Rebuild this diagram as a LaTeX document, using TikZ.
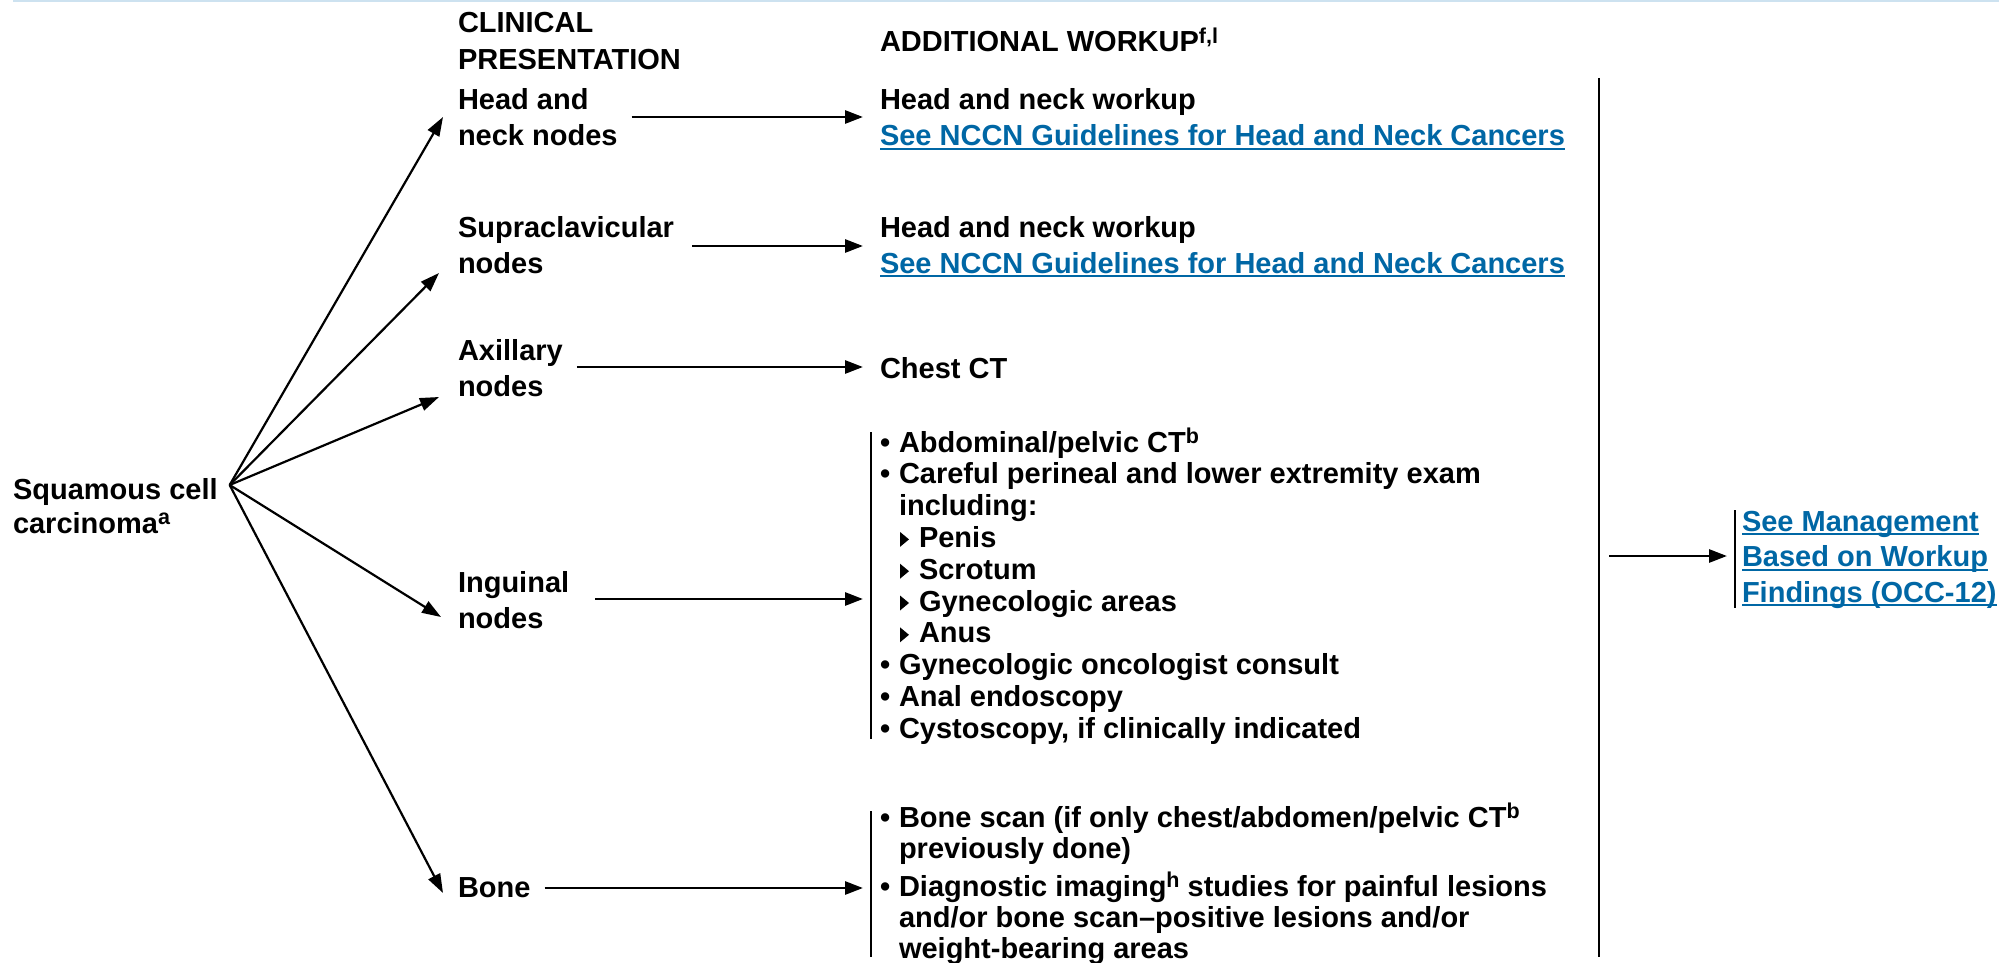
\documentclass[tikz,border=0pt]{standalone}
\usepackage{fontspec}
\setmainfont{Liberation Sans}
\usetikzlibrary{arrows.meta}
\definecolor{nccnblue}{RGB}{0,103,165}
\definecolor{topline}{RGB}{205,226,240}
\newcommand\bul{\makebox[19pt][l]{•}}
\newcommand\ind{\hspace*{19pt}}
\newcommand\subtri{\hspace*{20pt}\makebox[19pt][l]{\tikz[baseline=0pt]\fill (0pt,0.5pt) -- (0pt,15.5pt) -- (9pt,8pt) -- cycle;}}
\newcommand\lnk[1]{\setbox0\hbox{#1}\rlap{\rule[-4pt]{\wd0}{1.8pt}}\box0}
\newcommand\rows[1]{\begin{tabular}[t]{@{}l@{}}#1\end{tabular}}
\newcommand\sups[1]{\raisebox{8.5pt}{\fontsize{21.5}{21.5}\selectfont #1}}
\begin{document}
\begin{tikzpicture}[x=1pt,y=-1pt,
  txt/.style={inner sep=0pt, outer sep=0pt, anchor=base west, font=\bfseries\fontsize{29}{36}\selectfont},
  lst/.style={txt, font=\bfseries\fontsize{29}{31.8}\selectfont},
  arr/.style={line width=2.8pt, -{Triangle[length=18pt,width=13pt]}},
  darr/.style={line width=2.2pt, -{Triangle[length=19pt,width=13pt]}},
  bar/.style={line width=2pt}]
\useasboundingbox (0,0) rectangle (1999,963);
\fill[white] (0,0) rectangle (1999,963);
\draw[topline, line width=2.5pt] (13,1) -- (1999,1);

% left column
\node[txt, font=\bfseries\fontsize{29}{34}\selectfont] (scc) at (13,499) {\rows{Squamous cell\\carcinoma\sups{a}}};
\node[txt, font=\bfseries\fontsize{29}{37}\selectfont] (clin) at (458,33) {\rows{CLINICAL\\PRESENTATION}};
\node[txt] (addw) at (880,52) {ADDITIONAL WORKUP\sups{f,l}};

\node[txt] (hn) at (458,110) {\rows{Head and\\neck nodes}};
\node[txt] (sc) at (458,237) {\rows{Supraclavicular\\nodes}};
\node[txt] (ax) at (458,360) {\rows{Axillary\\nodes}};
\node[txt] (ing) at (458,592) {\rows{Inguinal\\nodes}};
\node[txt] (bone) at (458,897) {Bone};

% workup column
\node[txt] (hnw1) at (880,110) {\rows{Head and neck workup\\{\color{nccnblue}\lnk{See NCCN Guidelines for Head and Neck Cancers}}}};
\node[txt] (hnw2) at (880,237) {\rows{Head and neck workup\\{\color{nccnblue}\lnk{See NCCN Guidelines for Head and Neck Cancers}}}};
\node[txt] (chest) at (880,378) {Chest CT};
\node[lst] (ingl) at (880,452) {\rows{%
\bul Abdominal/pelvic CT\sups{b}\\
\bul Careful perineal and lower extremity exam\\
\ind including:\\
\subtri Penis\\
\subtri Scrotum\\
\subtri Gynecologic areas\\
\subtri Anus\\
\bul Gynecologic oncologist consult\\
\bul Anal endoscopy\\
\bul Cystoscopy, if clinically indicated}};
\node[lst, font=\bfseries\fontsize{29}{31}\selectfont] (bonel) at (880,827) {\rows{%
\bul Bone scan (if only chest/abdomen/pelvic CT\sups{b}\\
\ind previously done)\\[5pt]
\bul Diagnostic imaging\sups{h} studies for painful lesions\\
\ind and/or bone scan–positive lesions and/or\\
\ind weight-bearing areas}};

% management
\node[txt, font=\bfseries\fontsize{29}{35.5}\selectfont, text=nccnblue] (mgmt) at (1742,531) {\rows{\lnk{See Management}\\\lnk{Based on Workup}\\\lnk{Findings (OCC-12)}}};

% diagonal arrows
\coordinate (o) at ([shift={(12pt,14pt)}]scc.base east);
\draw[darr] (o) -- ([shift={(-15pt,-7pt)}]hn.base west);
\draw[darr] (o) -- ([shift={(-19pt,-36pt)}]sc.base west);
\draw[darr] (o) -- ([shift={(-19pt,-37pt)}]ax.base west);
\draw[darr] (o) -- ([shift={(-17pt,-25pt)}]ing.base west);
\draw[darr] (o) -- ([shift={(-15pt,4pt)}]bone.base west);

% horizontal arrows
\coordinate (h1) at ([shift={(14pt,-7pt)}]hn.base east);
\coordinate (h2) at ([shift={(18pt,-9pt)}]sc.base east);
\coordinate (h3) at ([shift={(14pt,-7pt)}]ax.base east);
\coordinate (h4) at ([shift={(26pt,-7pt)}]ing.base east);
\coordinate (h5) at ([shift={(14pt,9pt)}]bone.base east);
\draw[arr, shorten >=17pt] (h1) -- (h1 -| hnw1.west);
\draw[arr, shorten >=17pt] (h2) -- (h2 -| hnw2.west);
\draw[arr, shorten >=17pt] (h3) -- (h3 -| chest.west);
\draw[arr, shorten >=17pt] (h4) -- (h4 -| ingl.west);
\draw[arr, shorten >=17pt] (h5) -- (h5 -| bonel.west);

% brackets
\draw[bar] ([shift={(-9pt,20pt)}]ingl.base west) -- ++(0,307);
\draw[bar] ([shift={(-9pt,16pt)}]bonel.base west) -- ++(0,146);
\draw[bar] ([shift={(-7pt,21pt)}]mgmt.base west) -- ++(0,98);

% collector line and final arrow
\coordinate (vt) at (1599,78);
\coordinate (vb) at (1599,957);
\draw[line width=2.3pt] (vt) -- (vb);
\coordinate (m1) at (1609,556);
\draw[arr, shorten >=15pt] (m1) -- (m1 -| mgmt.west);
\end{tikzpicture}
\end{document}
